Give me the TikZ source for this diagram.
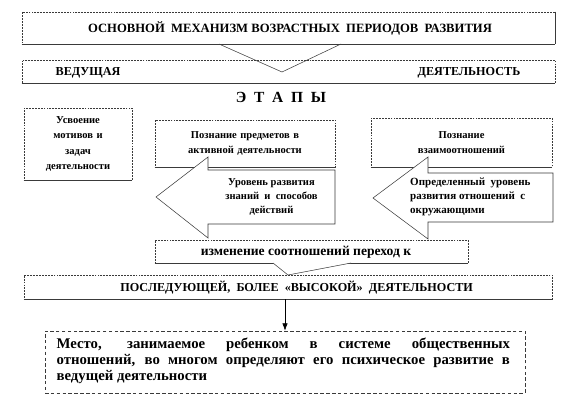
\documentclass[tikz,border=0pt]{standalone}
\usepackage{fontspec}
\setmainfont{Liberation Serif}
\usetikzlibrary{arrows.meta}
\definecolor{linegray}{HTML}{3A3A3A}
\tikzset{
  box/.style={draw=linegray, fill=white, line width=0.45pt, dash pattern=on 1.6pt off 0.9pt, inner sep=2pt, align=center},
  pbox/.style={box, dash pattern=on 3pt off 2pt},
  rim/.style={draw=linegray, line width=0.5pt},
  capt/.style={font=\fontsize{10.4}{12}\selectfont\bfseries, inner sep=0pt},
  small/.style={font=\fontsize{9}{13.2}\selectfont\bfseries, align=center, inner sep=0pt},
  blk/.style={draw=linegray, fill=white, line width=0.45pt, line join=miter},
  note/.style={font=\fontsize{12.6}{13.8}\selectfont\bfseries, align=justify, inner sep=0pt, text width=13.6cm},
  pointer/.style={draw=linegray, line width=0.45pt},
  down/.style={-{Latex[length=2.2mm, width=1.6mm]}, draw=black, line width=0.5pt},
}

\begin{document}
\begin{tikzpicture}[x=1cm,y=1cm]
  \useasboundingbox (0,0) rectangle (17.28,-12.33);
  % top: mechanism
  \node[box, minimum width=15.99cm, minimum height=0.96cm] (mech) at (8.655,-0.84) {};
  \node[capt, font=\fontsize{10.8}{12}\selectfont\bfseries] (mechtxt) at (8.70,-0.84) {ОСНОВНОЙ\ \ МЕХАНИЗМ ВОЗРАСТНЫХ\ \ ПЕРИОДОВ\ \ РАЗВИТИЯ};
  \node[box, minimum width=15.99cm, minimum height=0.69cm] (lead) at (8.655,-2.145) {};
  \node[capt] (leadl) at (2.64,-2.19) {ВЕДУЩАЯ};
  \node[capt] (leadr) at (14.07,-2.19) {ДЕЯТЕЛЬНОСТЬ};
  % stages
  \node[box, small, minimum width=3.24cm, minimum height=2.16cm, text width=2.9cm] (motive) at (2.34,-4.32) {Усвоение\\ мотивов и\\ задач\\ деятельности};
  \node[box, small, minimum width=5.40cm, minimum height=1.41cm, text width=5.1cm] (objects) at (7.35,-4.305) {Познание предметов в\\ активной деятельности};
  \node[box, small, minimum width=5.43cm, minimum height=1.47cm, text width=5.1cm] (relations) at (13.845,-4.275) {Познание\\ взаимоотношений};
  \node[box, minimum width=9.39cm, minimum height=0.69cm] (change) at (9.345,-7.545) {};
  \node[box, minimum width=15.84cm, minimum height=0.72cm] (next) at (8.64,-8.61) {};
  \foreach \b in {mech,lead,motive,objects,relations,change,next}
    \draw[rim] (\b.south west) -- (\b.south east);
  \draw[rim] (mech.north east) -- (mech.south east);
  \coordinate (vtip) at (8.46,-2.16);
  \draw[pointer] (6.57,-1.32) -- (vtip) -- (10.23,-1.32);
  \node[font=\fontsize{13.2}{15}\selectfont\bfseries, inner sep=0pt] (stages) at (8.43,-2.91) {Э\ \ Т\ \ А\ \ П\ \ Ы};
  % block arrows
  \draw[blk] (4.68,-5.91) -- (6.24,-4.71) -- (6.24,-5.10) -- (10.05,-5.10) -- (10.05,-6.72) -- (6.24,-6.72) -- (6.24,-7.14) -- cycle;
  \node[small, font=\fontsize{9}{11.9}\selectfont\bfseries] (knowledge) at (8.145,-5.90) {Уровень развития\\ знаний\ \ и\ \ способов\\ действий};
  \draw[blk] (11.19,-5.94) -- (12.84,-4.71) -- (12.84,-5.19) -- (16.59,-5.19) -- (16.59,-6.66) -- (12.84,-6.66) -- (12.84,-7.17) -- cycle;
  \node[small, font=\fontsize{9.4}{11.9}\selectfont\bfseries, align=left, anchor=west] (attitude) at (12.30,-5.91) {Определенный\ \ уровень\\ развития отношений\ \ с\\ окружающими};
  % change
  \node[capt, font=\fontsize{11.6}{13}\selectfont\bfseries] (changetxt) at (9.18,-7.56) {изменение соотношений переход к};
  \draw[pointer, fill=white] (8.19,-7.89) -- (8.64,-8.25) -- (10.53,-7.89);
  \node[capt] (nexttxt) at (8.90,-8.62) {ПОСЛЕДУЮЩЕЙ,\ \ БОЛЕЕ\ \ «ВЫСОКОЙ»\ \ ДЕЯТЕЛЬНОСТИ};
  % place of the child
  \node[pbox, minimum width=14.4cm, minimum height=1.86cm] (place) at (8.55,-10.86) {};
  \node[note] (placetxt) at (8.50,-10.83) {Место, занимаемое ребенком в системе общественных\linebreak отношений, во многом определяют его психическое развитие в\linebreak ведущей деятельности};
  \draw[down] (next.south -| place.north) -- (place.north);
\end{tikzpicture}
\end{document}
